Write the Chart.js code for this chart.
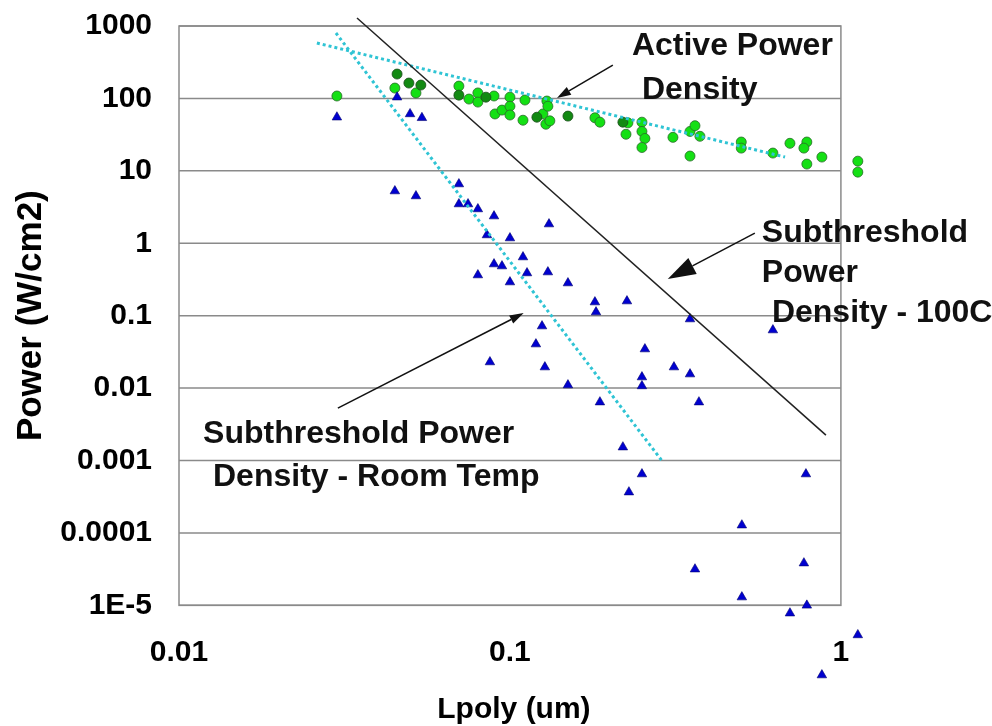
<!DOCTYPE html>
<html>
<head>
<meta charset="utf-8">
<script src="https://cdn.jsdelivr.net/npm/chart.js@4.4.1/dist/chart.umd.min.js"></script>
<style>
  body { margin: 0; background: #fff; }
</style>
</head>
<body>
<canvas id="myChart" width="992" height="726"></canvas>
<script>
// active power density, bright green points (Lpoly um / W per cm2)
var activeX = [0.0300, 0.0449, 0.052, 0.0701, 0.0752, 0.080, 0.080, 0.0895, 0.0901, 0.0946, 0.1, 0.1, 0.1,
  0.111, 0.1095, 0.1258, 0.1293, 0.1302, 0.1284, 0.132, 0.1806, 0.187, 0.2272, 0.2505, 0.2242, 0.2505,
  0.2557, 0.2505, 0.3108, 0.35, 0.3623, 0.375, 0.35, 0.5, 0.5, 0.623, 0.7015, 0.789, 0.773, 0.789, 0.876,
  1.125, 1.125];
var activeY = [108, 139, 119, 148, 98, 119, 89, 108, 61, 69, 104, 78, 59,
  95, 50, 61, 92, 78, 44, 49, 54, 47, 46, 47, 32, 35,
  28, 21, 29, 35, 42, 30, 16, 25, 20.6, 17.6, 24, 25, 20.6, 12.4, 15.5,
  13.6, 9.6];
// active power density, dark green points
var activeDarkX = [0.0456, 0.0495, 0.0538, 0.0701, 0.0846, 0.1206, 0.1497, 0.2194];
var activeDarkY = [217, 163, 153, 111, 104, 55, 57, 47];
// subthreshold power density, blue triangles
var subX = [0.030, 0.0456, 0.0499, 0.0542, 0.0449, 0.052, 0.0701, 0.0701, 0.0747, 0.080, 0.0895, 0.0852,
  0.1, 0.1312, 0.1095, 0.0895, 0.0946, 0.080, 0.1126, 0.1, 0.1302, 0.1497, 0.1806, 0.182, 0.2257, 0.35,
  0.623, 0.125, 0.1198, 0.087, 0.1275, 0.2557, 0.313, 0.35, 0.2505, 0.2505, 0.1497, 0.187, 0.3724, 0.2194,
  0.2505, 0.2288, 0.784, 0.502, 0.3623, 0.773, 0.502, 0.7015, 0.789, 1.125, 0.876];
var subY = [55, 104, 61, 54, 5.26, 4.49, 6.57, 3.48, 3.48, 2.97, 2.37, 1.30,
  1.18, 1.84, 0.645, 0.516, 0.484, 0.364, 0.388, 0.291, 0.40, 0.282, 0.154, 0.112, 0.159, 0.0898,
  0.0633, 0.0718, 0.0405, 0.0229, 0.0195, 0.0346, 0.0195, 0.0156, 0.0142, 0.0107, 0.011, 0.0064, 0.0064, 0.00153,
  0.00065, 0.000366, 0.00065, 0.000128, 3.16e-5, 3.83e-5, 1.30e-5, 7.8e-6, 1.0e-5, 3.9e-6, 1.09e-6];

// trend lines (two end points each)
var hotLineX = [0.0345, 0.901];
var hotLineY = [1290, 0.00224];
var activeFitX = [0.0261, 0.678];
var activeFitY = [582, 15.5];
var roomFitX = [0.0298, 0.29];
var roomFitY = [800, 0.00095];

var xTicks = [0.01, 0.1, 1];
var xTickLabels = ['0.01', '0.1', '1'];
var yTicks = [1e-5, 1e-4, 0.001, 0.01, 0.1, 1, 10, 100, 1000];
var yTickLabels = ['1E-5', '0.0001', '0.001', '0.01', '0.1', '1', '10', '100', '1000'];

// the framed plot box; the scales run a little further so stray points still show
var boxX = [0.01, 1];
var boxY = [1e-5, 1000];
var xMax = 1.2589;
var yMin = 3.162e-7;

// callout texts and arrows, placed in data units
var noteText = ['Active Power', 'Density', 'Subthreshold', 'Power', 'Density - 100C',
  'Subthreshold Power', 'Density - Room Temp'];
var noteX = [0.2336, 0.2505, 0.577, 0.577, 0.6187, 0.01182, 0.01267];
var noteY = [397, 98, 1.04, 0.291, 0.0816, 0.00174, 0.000443];
var arrowFromX = [0.2046, 0.5495, 0.0302];
var arrowFromY = [289, 1.38, 0.0053];
var arrowToX = [0.1387, 0.2998, 0.110];
var arrowToY = [101, 0.321, 0.1086];
var arrowHead = [14, 28, 14];

var FONT = '"Liberation Sans", Arial, Helvetica, sans-serif';

function toPoints(xs, ys){
  var pts = [];
  for (var i = 0; i < xs.length; i++) {
    pts.push({x: xs[i], y: ys[i]});
  }
  return pts;
}

var framePlugin = {
  id: 'frame',
  beforeDatasetsDraw: function(chart){
    var ctx = chart.ctx;
    var xs = chart.scales.x;
    var ys = chart.scales.y;
    var l = xs.getPixelForValue(boxX[0]);
    var r = xs.getPixelForValue(boxX[1]);
    var b = ys.getPixelForValue(boxY[0]);
    var t = ys.getPixelForValue(boxY[1]);
    ctx.save();
    ctx.strokeStyle = '#8a8a8a';
    ctx.lineWidth = 1.5;
    for (var i = 0; i < yTicks.length; i++) {
      var y = ys.getPixelForValue(yTicks[i]);
      ctx.beginPath();
      ctx.moveTo(l, y);
      ctx.lineTo(r, y);
      ctx.stroke();
    }
    ctx.strokeRect(l, t, r - l, b - t);
    // axis titles
    ctx.fillStyle = '#000';
    ctx.textAlign = 'center';
    ctx.textBaseline = 'middle';
    ctx.font = 'bold 30px ' + FONT;
    ctx.fillText('Lpoly (um)', (l + r) / 2 + 4, 710);
    ctx.translate(31, (t + b) / 2);
    ctx.rotate(-Math.PI / 2);
    ctx.font = 'bold 35px ' + FONT;
    ctx.fillText('Power (W/cm2)', 0, 0);
    ctx.restore();
  }
};

var notesPlugin = {
  id: 'notes',
  afterDraw: function(chart){
    var ctx = chart.ctx;
    var xs = chart.scales.x;
    var ys = chart.scales.y;
    ctx.save();
    // arrows
    ctx.strokeStyle = '#111';
    ctx.fillStyle = '#111';
    ctx.lineWidth = 1.5;
    for (var i = 0; i < arrowFromX.length; i++) {
      var x0 = xs.getPixelForValue(arrowFromX[i]);
      var y0 = ys.getPixelForValue(arrowFromY[i]);
      var x1 = xs.getPixelForValue(arrowToX[i]);
      var y1 = ys.getPixelForValue(arrowToY[i]);
      var ang = Math.atan2(y1 - y0, x1 - x0);
      var len = arrowHead[i];
      var half = len * 0.32;
      var bx = x1 - Math.cos(ang) * len;
      var by = y1 - Math.sin(ang) * len;
      ctx.beginPath();
      ctx.moveTo(x0, y0);
      ctx.lineTo(bx, by);
      ctx.stroke();
      ctx.beginPath();
      ctx.moveTo(x1, y1);
      ctx.lineTo(bx + Math.sin(ang) * half, by - Math.cos(ang) * half);
      ctx.lineTo(bx - Math.sin(ang) * half, by + Math.cos(ang) * half);
      ctx.closePath();
      ctx.fill();
    }
    // texts
    ctx.font = 'bold 32px ' + FONT;
    ctx.textAlign = 'left';
    ctx.textBaseline = 'alphabetic';
    for (var j = 0; j < noteText.length; j++) {
      ctx.fillText(noteText[j], xs.getPixelForValue(noteX[j]), ys.getPixelForValue(noteY[j]));
    }
    ctx.restore();
  }
};

function noPadding(scale){
  scale.paddingTop = 0;
  scale.paddingBottom = 0;
  scale.paddingLeft = 0;
  scale.paddingRight = 0;
}

function printChart(){
  var ctx = document.getElementById('myChart').getContext('2d');
  var chart = new Chart(ctx, {
    type: 'scatter',
    data: {
      datasets: [{
        label: 'Subthreshold 100C',
        data: toPoints(hotLineX, hotLineY),
        showLine: true,
        borderColor: '#222',
        borderWidth: 1.5,
        pointRadius: 0,
        clip: false,
        order: 0
      }, {
        label: 'Active fit',
        data: toPoints(activeFitX, activeFitY),
        showLine: true,
        borderColor: '#2fc4d4',
        borderWidth: 3,
        borderDash: [3, 3],
        pointRadius: 0,
        clip: false,
        order: 0
      }, {
        label: 'Room temp fit',
        data: toPoints(roomFitX, roomFitY),
        showLine: true,
        borderColor: '#2fc4d4',
        borderWidth: 3,
        borderDash: [3, 3],
        pointRadius: 0,
        clip: false,
        order: 0
      }, {
        label: 'Subthreshold',
        data: toPoints(subX, subY),
        pointStyle: 'triangle',
        pointRadius: 5.5,
        backgroundColor: '#0000d0',
        borderColor: '#000070',
        borderWidth: 0.6,
        clip: false,
        order: 1
      }, {
        label: 'Active dark',
        data: toPoints(activeDarkX, activeDarkY),
        pointRadius: 5,
        backgroundColor: '#138a13',
        borderColor: '#1d4d1d',
        borderWidth: 0.8,
        clip: false,
        order: 2
      }, {
        label: 'Active',
        data: toPoints(activeX, activeY),
        pointRadius: 5,
        backgroundColor: '#14e014',
        borderColor: '#2a6a2a',
        borderWidth: 0.8,
        clip: false,
        order: 3
      }]
    },
    options: {
      responsive: false,
      animation: false,
      events: [],
      layout: { padding: { top: 26, right: 118, left: 0, bottom: 12 } },
      plugins: {
        legend: { display: false },
        tooltip: { enabled: false }
      },
      scales: {
        x: {
          type: 'logarithmic',
          position: { y: boxY[0] },
          min: boxX[0],
          max: xMax,
          afterFit: noPadding,
          afterBuildTicks: function(scale){
            scale.ticks = xTicks.map(function(v){ return {value: v}; });
          },
          grid: { display: false, drawTicks: false },
          border: { display: false },
          ticks: {
            padding: 29,
            autoSkip: false,
            maxRotation: 0,
            color: '#000',
            font: { family: FONT, size: 30, weight: 'bold' },
            callback: function(value){ return xTickLabels[xTicks.indexOf(value)]; }
          }
        },
        y: {
          type: 'logarithmic',
          position: 'left',
          min: yMin,
          max: boxY[1],
          afterFit: function(scale){ noPadding(scale); scale.width = 179; },
          afterBuildTicks: function(scale){
            scale.ticks = yTicks.map(function(v){ return {value: v}; });
          },
          grid: { display: false, drawTicks: false },
          border: { display: false },
          ticks: {
            padding: 27,
            autoSkip: false,
            color: '#000',
            font: { family: FONT, size: 30, weight: 'bold' },
            callback: function(value){ return yTickLabels[yTicks.indexOf(value)]; }
          }
        }
      }
    },
    plugins: [framePlugin, notesPlugin]
  });
}

printChart();
</script>
</body>
</html>
